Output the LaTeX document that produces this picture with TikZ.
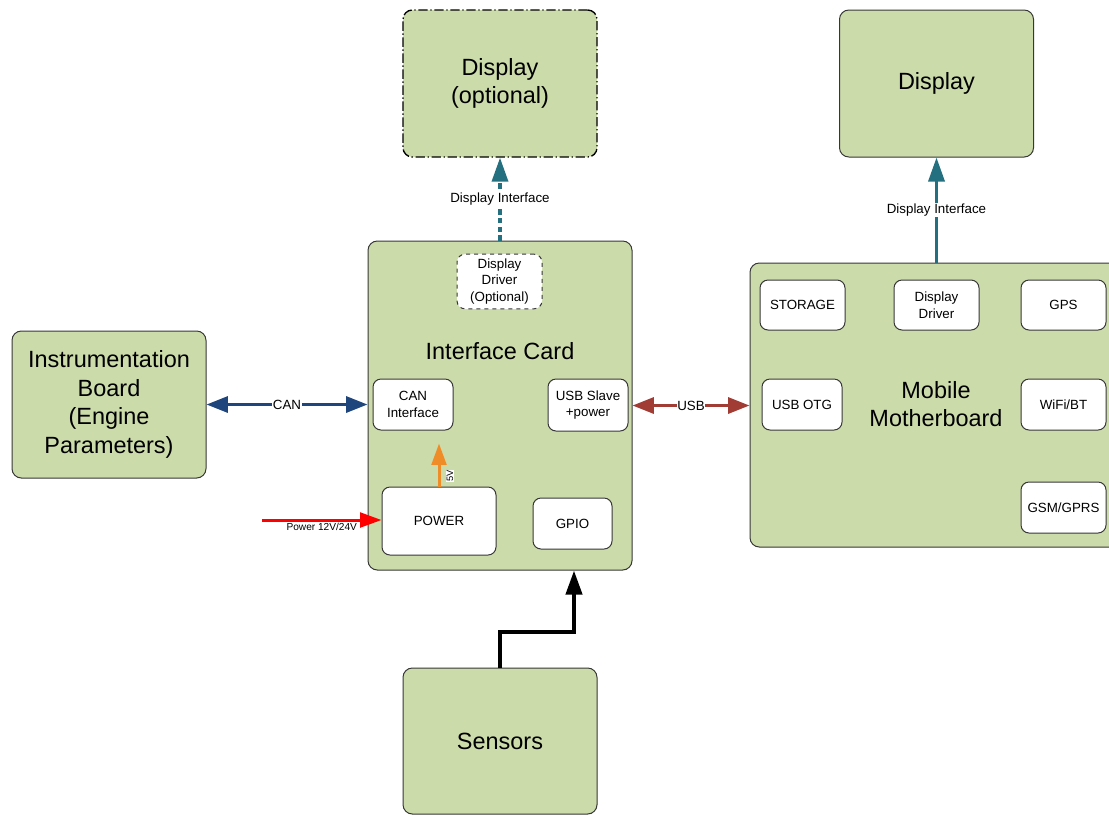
\documentclass[tikz,border=0pt]{standalone}
\usepackage{fontspec}
\setmainfont{Liberation Sans}
\usetikzlibrary{arrows.meta,positioning}
\definecolor{boardgreen}{RGB}{204,219,170}
\definecolor{edgegray}{RGB}{55,55,55}
\definecolor{canblue}{RGB}{31,69,125}
\definecolor{usbred}{RGB}{160,60,52}
\definecolor{dispteal}{RGB}{36,112,128}
\definecolor{fiveorange}{RGB}{240,140,40}
\tikzset{
    board/.style={draw=edgegray,line width=0.75pt,fill=boardgreen,rounded corners=7pt,
        align=center,font=\fontsize{17.6}{21.5}\selectfont},
    chip/.style={draw=edgegray,line width=0.75pt,fill=white,rounded corners=6pt,
        align=center,font=\fontsize{10}{12.5}\selectfont},
    tag/.style={fill=white,text=black,inner sep=0.5pt,font=\fontsize{10}{12}\selectfont},
    bigarrow/.style={line width=2.25pt,{Triangle[length=16pt,width=12pt]}-{Triangle[length=16pt,width=12pt]}},
    uparrow/.style={line width=2.6pt,-{Triangle[length=18pt,width=12pt]}}
}
\begin{document}
\begin{tikzpicture}[x=0.75pt,y=-0.75pt]
\useasboundingbox (0,0) rectangle (1109,815);
\begin{scope}
\clip (0,0) rectangle (1109,815);
% boards
\node[board,draw=black,line width=1pt,minimum width=145.5pt,minimum height=110.25pt,
    dash pattern=on 7pt off 2pt on 1pt off 2pt] (dispopt) at (500,83.5) {Display\\(optional)};
\node[board,minimum width=145.5pt,minimum height=110.25pt] (disp) at (936.5,83.5) {Display};
\node[board,minimum width=145.5pt,minimum height=110.25pt] (instr) at (109,404.5)
    {Instrumentation\\Board\\(Engine\\Parameters)};
\node[board,minimum width=198pt,minimum height=246.75pt] (card) at (500,405.5) {};
\node[board,draw=none,fill=none] (cardtitle) at (500,351) {Interface Card};
\node[board,minimum width=277.5pt,minimum height=213pt] (mobile) at (935,405) {};
\node[board,draw=none,fill=none] (mobiletitle) at (936,404) {Mobile\\Motherboard};
\node[board,minimum width=145.5pt,minimum height=109.5pt] (sensors) at (500,741) {Sensors};
% interface card parts
\node[chip,dashed,minimum width=63.75pt,minimum height=38.25pt] (drvopt) at (499.5,281.5)
    {Display\\Driver\\(Optional)};
\node[chip,minimum width=60pt,minimum height=38.25pt] (can) at (413,404.5) {CAN\\Interface};
\node[chip,minimum width=60pt,minimum height=39pt] (usbs) at (588,405) {USB Slave\\+power};
\node[chip,minimum width=85.5pt,minimum height=51pt] (power) at (439,521) {POWER};
\node[chip,minimum width=59.25pt,minimum height=38.25pt] (gpio) at (572.5,523.5) {GPIO};
% mobile motherboard parts
\node[chip,minimum width=63.75pt,minimum height=37.5pt] (storage) at (802.5,305) {STORAGE};
\node[chip,minimum width=63.75pt,minimum height=37.5pt] (mdrv) at (936.5,305) {Display\\Driver};
\node[chip,minimum width=63.75pt,minimum height=37.5pt] (gps) at (1063.5,305) {GPS};
\node[chip,minimum width=60pt,minimum height=38.25pt] (otg) at (802,404.5) {USB OTG};
\node[chip,minimum width=63.75pt,minimum height=38.25pt] (wifi) at (1063.5,404.5) {WiFi/BT};
\node[chip,minimum width=63.75pt,minimum height=38.25pt] (gsm) at (1063.5,507.5) {GSM/GPRS};
\end{scope}
% connectors
\draw[bigarrow,canblue] (instr.east) -- node[tag]{CAN} (instr.east -| card.west);
\draw[bigarrow,usbred] (card.east) -- node[tag]{USB} (card.east -| mobile.west);
\draw[uparrow,dispteal,dash pattern=on 4pt off 2.5pt] (card.north) -- node[tag]{Display Interface} (dispopt.south);
\draw[uparrow,dispteal] (disp.south |- mobile.north) -- node[tag]{Display Interface} (disp.south);
\coordinate (pwrin) at (262,520);
\draw[line width=2.25pt,red,-{Triangle[length=16pt,width=11pt]}] (pwrin) --
    node[below,text=black,inner sep=1pt,font=\fontsize{7.6}{9}\selectfont]{Power 12V/24V} (pwrin -| power.west);
\draw[line width=2.25pt,fiveorange,-{Triangle[length=16pt,width=11pt]},shorten >=9.75pt]
    (power.north) -- (can.south -| power.north);
\node[tag,rotate=90,font=\fontsize{7}{8}\selectfont] (fivev) at (450,476) {5V};
\draw[uparrow,black,line width=3pt] (sensors.north) -- ++(0,-36) -| ([xshift=55.5pt]card.south);
\end{tikzpicture}
\end{document}
